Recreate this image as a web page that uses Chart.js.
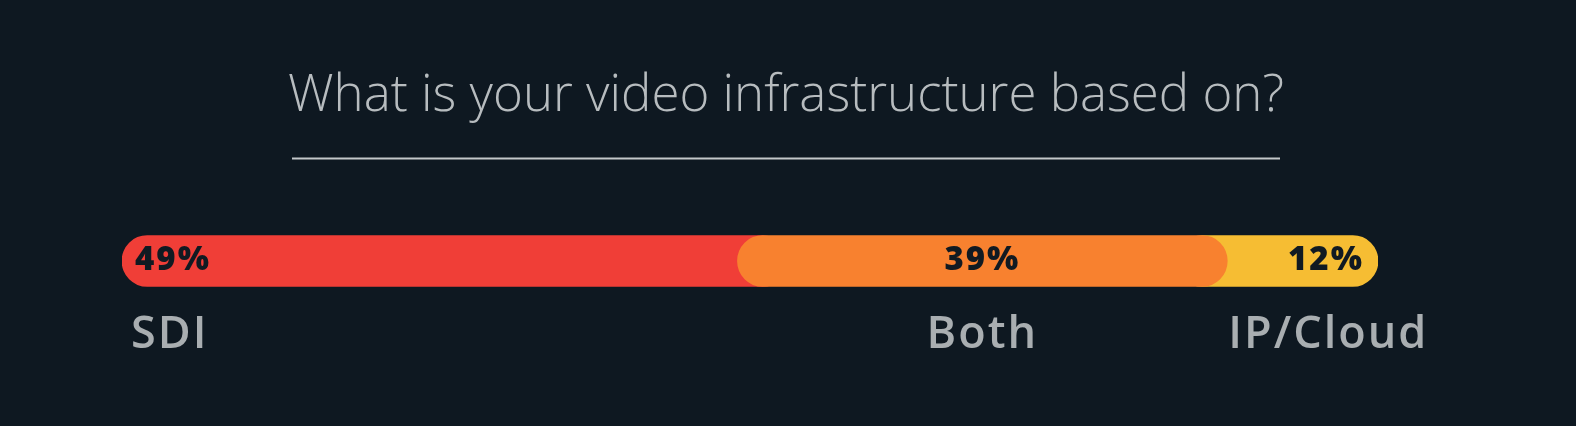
<!DOCTYPE html>
<html>
<head>
<meta charset="utf-8">
<script src="https://cdn.jsdelivr.net/npm/chart.js@4.4.1/dist/chart.umd.min.js"></script>
<style>
  html, body { margin: 0; padding: 0; background: #0e1821; }
  #wrap { width: 1576px; height: 426px; }
</style>
</head>
<body>
<div id="wrap"><canvas id="chart"></canvas></div>
<script>
// Survey answer shares.
const categories = ["SDI", "Both", "IP/Cloud"];
const shares = [49, 39, 12];
const colors = ["#f03e37", "#f8812f", "#f6bd33"];
const titleText = "What is your video infrastructure based on?";

// Bars are drawn as overlapping floating ranges so the rounded ends
// sit on top of the neighbouring segment instead of leaving gaps.
const overlap = 4;
const starts = [];
let acc = 0;
for (const v of shares) { starts.push(acc); acc += v; }
const last = shares.length - 1;

const datasets = shares.map(function (v, i) {
  const lo = i === last ? starts[i] - overlap : starts[i];
  const hi = i === 0 ? starts[i] + v + overlap : starts[i] + v;
  return {
    label: categories[i],
    data: [[lo, hi]],
    backgroundColor: colors[i],
    borderRadius: 30,
    borderSkipped: false,
    barThickness: 51,
    grouped: false,
    order: (i === 0 || i === last) ? 1 : 0,
  };
});

// title + rule are centred on the page, not on the (off-centre) chart area,
// so they are drawn here instead of by the title plugin
const labelsPlugin = {
  id: "barLabels",
  afterDatasetsDraw(chart) {
    const ctx = chart.ctx;
    const x = chart.scales.x;
    const bar = chart.getDatasetMeta(0).data[0];
    const cy = bar.y;

    ctx.save();
    ctx.fillStyle = "#b7bcbf";
    ctx.font = "300 51px 'Open Sans', sans-serif";
    ctx.textAlign = "center";
    ctx.textBaseline = "alphabetic";
    ctx.fillText(titleText, 786, 111);

    ctx.strokeStyle = "#c3c7ca";
    ctx.lineWidth = 2;
    ctx.beginPath();
    ctx.moveTo(292, 158.5);
    ctx.lineTo(1280, 158.5);
    ctx.stroke();

    ctx.textBaseline = "middle";
    shares.forEach(function (v, i) {
      const x0 = x.getPixelForValue(starts[i]);
      const x1 = x.getPixelForValue(starts[i] + v);

      ctx.fillStyle = "#111a22";
      ctx.font = "800 33px 'Open Sans', sans-serif";
      ctx.letterSpacing = "2px";
      if (i === 0) { ctx.textAlign = "left"; ctx.fillText(v + "%", x0 + 13, cy); }
      else if (i === last) { ctx.textAlign = "right"; ctx.fillText(v + "%", x1 - 14, cy); }
      else { ctx.textAlign = "center"; ctx.fillText(v + "%", (x0 + x1) / 2, cy); }

      ctx.fillStyle = "#a9aeb1";
      ctx.font = "600 45px 'Open Sans', sans-serif";
      ctx.letterSpacing = "2px";
      const ly = cy + 74;
      if (i === 0) { ctx.textAlign = "left"; ctx.fillText(categories[i], x0 + 9, ly); }
      else if (i === last) { ctx.textAlign = "left"; ctx.fillText(categories[i], x0 + 1, ly); }
      else { ctx.textAlign = "center"; ctx.fillText(categories[i], (x0 + x1) / 2, ly); }
    });
    ctx.letterSpacing = "0px";
    ctx.restore();
  },
};

new Chart(document.getElementById("chart"), {
  type: "bar",
  data: { labels: [""], datasets: datasets },
  plugins: [labelsPlugin],
  options: {
    indexAxis: "y",
    responsive: true,
    maintainAspectRatio: false,
    animation: false,
    layout: { padding: { left: 122, right: 198, top: 178, bottom: 82 } },
    scales: {
      x: { display: false, min: 0, max: 100 },
      y: { display: false },
    },
    plugins: {
      legend: { display: false },
      tooltip: { enabled: false },
      title: { display: false },
    },
  },
});
</script>
</body>
</html>
